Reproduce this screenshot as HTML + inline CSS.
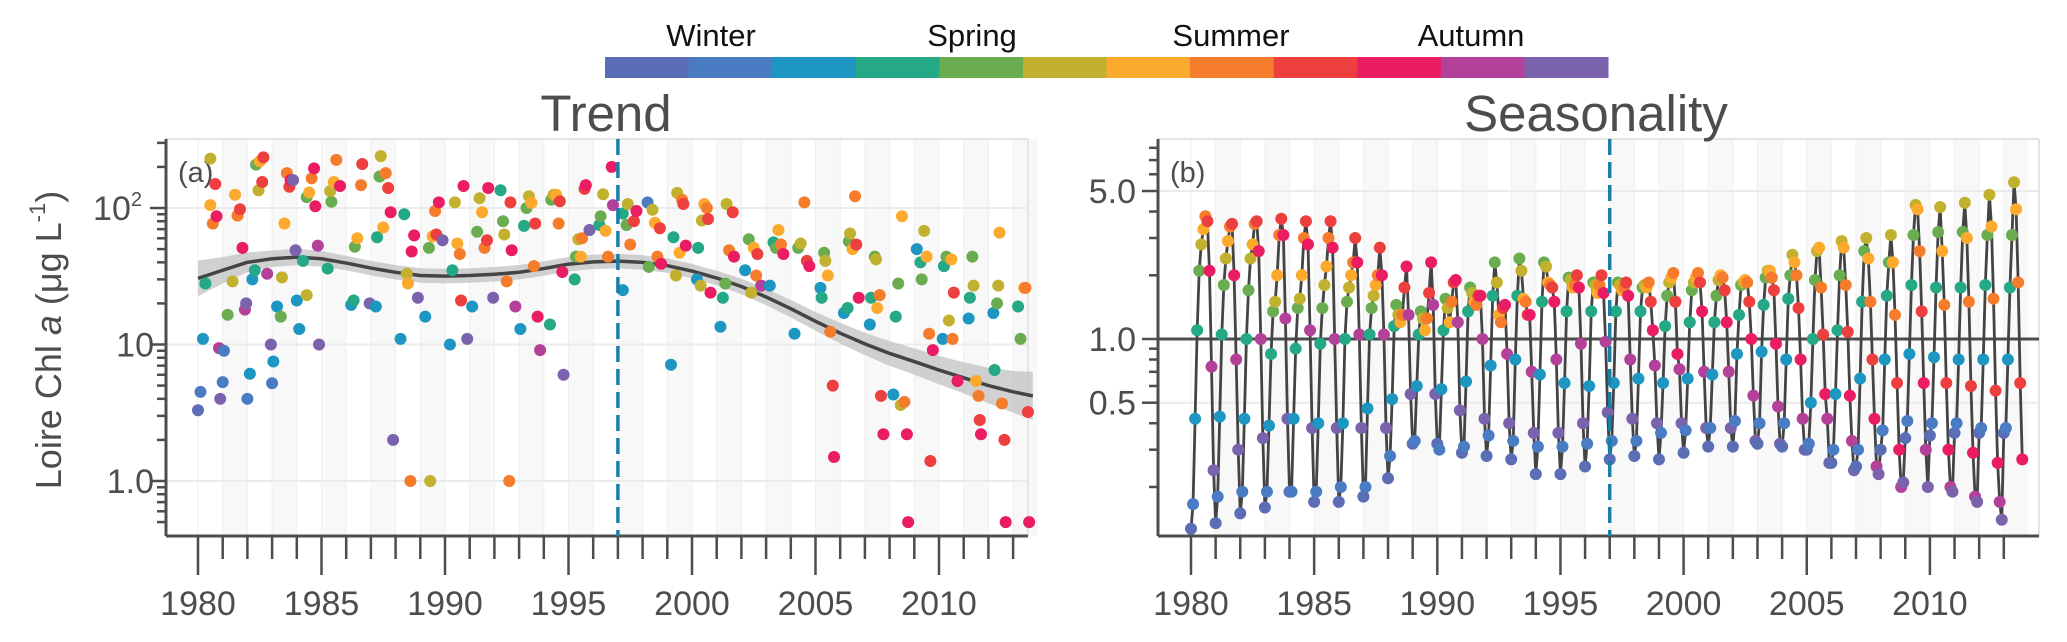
<!DOCTYPE html>
<html><head><meta charset="utf-8"><style>
html,body{margin:0;padding:0;background:#fff;}
svg{display:block;font-family:"Liberation Sans",sans-serif;}
</style></head><body>
<svg id="fig" width="2067" height="642" viewBox="0 0 2067 642" xmlns="http://www.w3.org/2000/svg"></svg>
<script>
// ---------- data ----------
const monthColors = ["#5a6db5","#4a7cc4","#1e96c2","#24a886","#6aad50","#c2b12f","#fbaa2e","#f47c2b","#ee3f3f","#e91c64","#b3419a","#7b62ad"];
const seasonLabels = ["Winter","Spring","Summer","Autumn"];
const xTickYears = [1980,1985,1990,1995,2000,2005,2010];
const breakYear = 1997;

const trendYears = [1980,1981,1982,1983,1984,1985,1986,1987,1988,1989,1990,1991,1992,1993,1994,1995,1996,1997,1998,1999,2000,2001,2002,2003,2004,2005,2006,2007,2008,2009,2010,2011,2012,2013,2013.8];
const trendVals = [30.5,35,40,42.5,43.7,42.5,39.5,36.3,33.8,32,31.7,32,32.7,33.8,36,38.8,40.3,40.8,40,37.8,34.5,30.7,26.6,22.3,18.3,14.8,12.1,10.1,8.6,7.5,6.5,5.7,5.0,4.5,4.2];
const bandFactor = [1.35,1.25,1.18,1.15,1.15,1.14,1.13,1.13,1.13,1.13,1.13,1.13,1.13,1.13,1.13,1.13,1.13,1.13,1.13,1.13,1.13,1.13,1.14,1.15,1.16,1.17,1.19,1.21,1.23,1.25,1.27,1.3,1.35,1.42,1.5];

// [decimal year, value, month index]
const trendPoints = [
[1980.5,230,5],[1980.5,105,6],[1980.6,77,7],[1980.7,150,8],[1980.75,87,9],[1980.3,28,3],[1980.2,11,2],[1980.1,4.5,1],[1980,3.3,0],[1980.85,9.4,10],[1980.9,4,11],
[1981.05,9,1],[1981.2,16.5,4],[1981.0,5.3,1],[1981.4,29,5],[1981.5,125,6],[1981.6,88,7],[1981.7,98,8],[1981.8,51,9],[1981.9,18,10],[1981.95,20,11],
[1982.1,6.1,2],[1982.0,4.0,1],[1982.2,30,2],[1982.3,35,3],[1982.35,208,4],[1982.45,135,5],[1982.5,220,6],[1982.6,155,8],[1982.65,235,8],[1982.8,33,10],[1982.95,10,11],
[1983.05,7.5,2],[1983.0,5.2,1],[1983.2,19,2],[1983.35,16,4],[1983.4,31,5],[1983.5,77,6],[1983.6,180,7],[1983.7,143,8],[1983.75,160,9],[1983.85,160,11],[1983.95,49,11],
[1984.0,21,2],[1984.1,13,2],[1984.25,41,3],[1984.4,120,4],[1984.5,130,6],[1984.6,165,7],[1984.7,195,9],[1984.75,103,9],[1984.85,53,10],[1984.9,10,11],[1984.4,23,5],
[1985.25,36,3],[1985.4,111,4],[1985.35,133,5],[1985.5,155,6],[1985.6,225,7],[1985.75,145,9],
[1986.2,19.5,2],[1986.3,21,3],[1986.35,52,4],[1986.45,60,6],[1986.6,147,7],[1986.65,210,8],[1986.95,20,11],
[1987.2,19,2],[1987.25,61,3],[1987.35,170,4],[1987.4,240,5],[1987.5,72,6],[1987.6,180,7],[1987.7,140,8],[1987.8,93,9],[1987.9,2.0,11],
[1988.2,11,2],[1988.35,90,3],[1988.45,33,5],[1988.5,28,6],[1988.6,1.0,7],[1988.65,48,9],[1988.75,63,9],[1988.9,22,11],
[1989.2,16,2],[1989.35,51,4],[1989.4,1.0,5],[1989.5,62,6],[1989.6,95,7],[1989.65,64,8],[1989.75,110,9],[1989.9,58,11],
[1990.2,10,2],[1990.3,35,3],[1990.4,110,5],[1990.5,55,6],[1990.6,46,7],[1990.65,21,8],[1990.75,145,9],[1990.9,11,11],
[1991.1,19,2],[1991.3,67,4],[1991.4,118,5],[1991.5,93,6],[1991.6,51,7],[1991.7,58,8],[1991.75,140,9],[1991.95,22,11],
[1992.25,135,3],[1992.35,80,4],[1992.4,64,5],[1992.5,29,7],[1992.6,1.0,7],[1992.65,110,8],[1992.7,49,9],[1992.85,19,10],
[1993.05,13,2],[1993.2,74,3],[1993.3,100,4],[1993.4,122,5],[1993.5,109,6],[1993.6,37.5,7],[1993.65,77,8],[1993.75,16,9],[1993.85,9.1,10],
[1994.25,14,3],[1994.3,115,4],[1994.4,125,5],[1994.5,125,6],[1994.6,77,7],[1994.65,112,8],[1994.75,34,9],[1994.8,6.0,11],
[1995.25,30,3],[1995.3,44,4],[1995.4,59,5],[1995.5,44,6],[1995.55,60,7],[1995.65,138,8],[1995.7,147,9],[1995.85,69,11],
[1996.25,75,3],[1996.3,87,4],[1996.4,126,5],[1996.5,68,6],[1996.6,44,7],[1996.75,200,9],[1996.8,105,10],
[1997.2,25,2],[1997.2,91,3],[1997.35,75,4],[1997.4,107,5],[1997.5,54,7],[1997.65,80,8],[1997.75,95,9],
[1998.2,110,1],[1998.25,37,4],[1998.4,97,5],[1998.5,78,6],[1998.6,44,7],[1998.7,71,8],[1998.75,39,9],
[1999.15,7.1,2],[1999.25,61,3],[1999.35,32,5],[1999.4,129,5],[1999.5,47,6],[1999.6,115,7],[1999.65,107,8],[1999.75,53,9],
[2000.2,30,2],[2000.25,51,3],[2000.35,27,5],[2000.4,81,5],[2000.5,107,6],[2000.6,100,7],[2000.65,83,8],[2000.75,24,9],
[2001.15,13.5,2],[2001.25,22,3],[2001.35,28,4],[2001.4,107,5],[2001.5,49,7],[2001.65,93,8],[2001.7,44,9],
[2002.15,35,2],[2002.3,59,4],[2002.4,24,5],[2002.5,51,6],[2002.6,32,7],[2002.65,46,8],[2002.8,27,10],
[2003.15,27,2],[2003.3,56,3],[2003.4,51,4],[2003.5,69,6],[2003.6,54,7],[2003.7,46,9],
[2004.15,12,2],[2004.3,51,4],[2004.4,55,5],[2004.55,110,7],[2004.65,41,8],[2004.75,37.5,9],
[2005.2,26,2],[2005.25,22,3],[2005.35,47,4],[2005.4,41,5],[2005.5,32,6],[2005.6,12.4,7],[2005.7,5.0,8],[2005.75,1.5,9],
[2006.15,17,2],[2006.3,18.5,3],[2006.35,57,4],[2006.4,65,5],[2006.5,50,6],[2006.6,122,7],[2006.65,54,8],[2006.75,22,9],
[2007.2,14,2],[2007.25,22,3],[2007.4,44,4],[2007.45,42,5],[2007.5,18.5,6],[2007.6,23,7],[2007.65,4.2,8],[2007.75,2.2,9],
[2008.15,4.3,2],[2008.25,16,3],[2008.35,28,4],[2008.45,3.6,5],[2008.5,87,6],[2008.6,3.8,7],[2008.7,2.2,9],[2008.75,0.5,9],
[2009.1,50,2],[2009.25,40,3],[2009.3,30,4],[2009.4,68,5],[2009.5,44,6],[2009.6,12,7],[2009.65,1.4,8],[2009.75,9.1,9],
[2010.15,11,2],[2010.2,37.5,3],[2010.3,44,4],[2010.4,15,5],[2010.5,42,6],[2010.55,11,7],[2010.6,24,8],[2010.75,5.4,9],
[2011.2,15.5,2],[2011.25,22,3],[2011.35,44,4],[2011.4,27,5],[2011.5,5.4,6],[2011.6,4.2,7],[2011.65,2.8,8],[2011.7,2.2,9],
[2012.2,17,2],[2012.25,6.5,3],[2012.35,20,4],[2012.4,27,5],[2012.45,66,6],[2012.55,3.7,7],[2012.65,2.0,8],[2012.7,0.5,9],
[2013.2,19,3],[2013.3,11,4],[2013.45,26,6],[2013.5,26,7],[2013.6,3.2,8],[2013.65,0.5,9]
];

// seasonal factor per year, Jan..Dec
const seasonYears = [1980,1981,1982,1983,1984,1985,1986,1987,1988,1989,1990,1991,1992,1993,1994,1995,1996,1997,1998,1999,2000,2001,2002,2003,2004,2005,2006,2007,2008,2009,2010,2011,2012,2013];
const seasonVals = [
[0.127,0.166,0.42,1.1,2.1,2.8,3.3,3.8,3.6,2.1,0.74,0.24],
[0.135,0.18,0.43,1.05,1.8,2.4,2.9,3.4,3.5,2.0,0.8,0.3],
[0.15,0.19,0.42,1.0,1.7,2.4,2.8,3.5,3.6,2.6,1.0,0.34],
[0.16,0.19,0.39,0.85,1.35,1.5,2.0,3.1,3.7,3.1,1.25,0.42],
[0.19,0.19,0.42,0.9,1.4,1.55,2.0,3.0,3.6,2.8,1.1,0.38],
[0.17,0.19,0.4,0.95,1.4,1.8,2.2,3.0,3.6,2.7,1.0,0.38],
[0.17,0.2,0.4,1.0,1.5,1.75,2.0,2.3,3.0,2.3,1.05,0.38],
[0.18,0.2,0.47,1.05,1.4,1.6,1.8,2.0,2.7,2.0,1.05,0.38],
[0.22,0.28,0.52,1.15,1.45,1.3,1.2,1.3,1.75,2.2,1.3,0.55],
[0.32,0.33,0.6,1.05,1.35,1.25,1.1,1.25,1.65,2.3,1.45,0.55],
[0.32,0.3,0.58,1.1,1.55,1.4,1.2,1.5,1.85,1.9,1.2,0.46],
[0.29,0.31,0.63,1.35,1.75,1.65,1.5,1.45,1.6,1.6,1.0,0.42],
[0.28,0.35,0.75,1.6,2.3,1.85,1.3,1.2,1.4,1.45,0.85,0.4],
[0.27,0.33,0.8,1.6,2.4,2.1,1.55,1.5,1.3,1.3,0.7,0.36],
[0.23,0.31,0.68,1.5,2.3,2.2,1.85,1.8,1.75,1.5,0.8,0.36],
[0.23,0.31,0.62,1.35,1.95,1.9,1.75,1.8,2.0,1.75,0.95,0.4],
[0.25,0.32,0.6,1.35,1.85,1.8,1.65,1.8,2.0,1.65,0.97,0.45],
[0.27,0.33,0.62,1.35,1.85,1.8,1.7,1.75,1.85,1.6,0.8,0.42],
[0.28,0.33,0.65,1.35,1.75,1.8,1.75,1.85,1.5,1.1,0.75,0.4],
[0.27,0.36,0.62,1.15,1.6,1.85,1.95,2.05,1.5,0.85,0.72,0.4],
[0.29,0.37,0.65,1.2,1.7,1.85,1.95,2.05,1.85,1.35,0.7,0.38],
[0.31,0.38,0.68,1.2,1.6,1.9,2.0,1.95,1.7,1.2,0.7,0.38],
[0.31,0.41,0.85,1.3,1.8,1.85,1.9,1.85,1.5,1.0,0.54,0.33],
[0.32,0.4,0.87,1.45,1.95,2.1,2.1,1.95,1.7,0.95,0.48,0.32],
[0.31,0.4,0.8,1.55,2.0,2.5,2.3,2.0,1.4,0.8,0.42,0.3],
[0.3,0.32,0.5,1.0,1.9,2.6,2.7,1.75,1.05,0.55,0.42,0.26],
[0.26,0.3,0.55,1.1,2.0,2.9,2.7,1.8,1.08,0.54,0.33,0.24],
[0.25,0.3,0.65,1.5,2.6,3.0,2.4,1.5,0.8,0.42,0.25,0.23],
[0.3,0.37,0.8,1.6,2.3,3.1,2.3,1.3,0.62,0.3,0.2,0.21],
[0.34,0.41,0.85,1.8,3.1,4.3,4.1,2.6,1.35,0.62,0.3,0.2],
[0.35,0.4,0.82,1.75,3.2,4.2,2.6,1.45,0.62,0.3,0.2,0.19],
[0.36,0.4,0.8,1.75,3.2,4.4,3.0,1.5,0.6,0.29,0.18,0.17],
[0.36,0.38,0.8,1.8,3.1,4.8,3.4,1.55,0.57,0.26,0.17,0.14],
[0.36,0.38,0.8,1.75,3.1,5.5,4.1,1.85,0.62,0.27]
];

// ---------- scales ----------
const L = {x0:166,x1:1028,y0:139,y1:536};
const R = {x0:1158,x1:2039,y0:139,y1:536};
const xL = y => 198 + (y-1980)*24.7;
const yL = v => 481 - Math.log10(v)*136.5;
const xR = y => 1191 + (y-1980)*24.63;
const yR = v => 339 - Math.log10(v)*211.7;

const NS="http://www.w3.org/2000/svg";
const svg=document.getElementById('fig');
function mk(tag,attrs,parent){const e=document.createElementNS(NS,tag);for(const k in attrs)e.setAttribute(k,attrs[k]);(parent||svg).appendChild(e);return e;}
const AX="#4d4d4d";

// ---------- colorbar ----------
const cb=mk('g',{});


const cbX0=605, cbW=(1608-605)/12;
monthColors.forEach((c,i)=>{
  const r=mk('rect',{x:cbX0+i*cbW,y:57,width:cbW+0.5,height:21,fill:c},cb);
  
  
});
const seasonLabelX=[711,972,1231,1471];
seasonLabels.forEach((s,i)=>{
  const t=mk('text',{x:seasonLabelX[i],y:46,'text-anchor':'middle','font-size':31,fill:'#111'},cb);
  t.textContent=s;
  
  
});

function panel(P,xs,ys,name,title,tag,yTicks,yMinor,xTitleX){
  const g=mk('g',{});
  
  
  for(let y=1980;y<2014;y++){
    if(y%2===1){mk('rect',{x:xs(y),y:P.y0,width:xs(y+1)-xs(y),height:P.y1-P.y0,fill:'#f8f8f8'},g);}
    mk('line',{x1:xs(y),x2:xs(y),y1:P.y0,y2:P.y1,stroke:'#efefef','stroke-width':1},g);
  }
  mk('line',{x1:P.x0,x2:P.x1,y1:P.y0,y2:P.y0,stroke:'#e4e4e4','stroke-width':2},g);
  mk('line',{x1:P.x1,x2:P.x1,y1:P.y0,y2:P.y1,stroke:'#e4e4e4','stroke-width':2},g);
  yTicks.forEach(t=>mk('line',{x1:P.x0,x2:P.x1,y1:ys(t.v),y2:ys(t.v),stroke:'#ebebeb','stroke-width':2},g));
  const tt=mk('text',{x:xTitleX,y:131,'text-anchor':'middle','font-size':51,fill:AX},g);
  tt.textContent=title;
  
  
  const tg=mk('text',{x:P.x0+12,y:182,'font-size':29,fill:AX},g);
  tg.textContent=tag;
  
  
  const ax=mk('g',{},g);
  
  
  mk('line',{x1:P.x0,x2:P.x1,y1:P.y1,y2:P.y1,stroke:AX,'stroke-width':3},ax);
  for(let y=1980;y<=2013;y++){
    const maj=y%5===0;
    mk('line',{x1:xs(y),x2:xs(y),y1:P.y1,y2:maj?575:559,stroke:AX,'stroke-width':2.5},ax);
  }
  xTickYears.forEach(y=>{
    const t=mk('text',{x:xs(y),y:615,'text-anchor':'middle','font-size':34,fill:AX},ax);
    t.textContent=y;
    
    
  });
  const ay=mk('g',{},g);
  
  
  mk('line',{x1:P.x0,x2:P.x0,y1:P.y0,y2:P.y1,stroke:AX,'stroke-width':3},ay);
  yMinor.forEach(v=>mk('line',{x1:P.x0-9,x2:P.x0,y1:ys(v),y2:ys(v),stroke:AX,'stroke-width':2.5},ay));
  yTicks.forEach(t=>{
    mk('line',{x1:P.x0-16,x2:P.x0,y1:ys(t.v),y2:ys(t.v),stroke:AX,'stroke-width':2.5},ay);
    const tx=mk('text',{x:t.rx,y:ys(t.v)+12,'text-anchor':'end','font-size':34,fill:AX},ay);
    tx.innerHTML=t.label;
    
    
  });
  return g;
}

// ---------- Trend panel ----------
const minorL=[0.5,0.6,0.7,0.8,0.9,2,3,4,5,6,7,8,9,20,30,40,50,60,70,80,90,200,300];
const gL=panel(L,xL,yL,'trend','Trend','(a)',
  [{v:1,label:'1.0',rx:154},{v:10,label:'10',rx:154},{v:100,label:'10<tspan font-size="20" dy="-14">2</tspan>',rx:142}],
  minorL,606);
let up='',dn='';
trendYears.forEach((y,i)=>{up+=(i?'L':'M')+xL(y)+','+yL(trendVals[i]*bandFactor[i]);});
for(let i=trendYears.length-1;i>=0;i--){dn+='L'+xL(trendYears[i])+','+yL(trendVals[i]/bandFactor[i]);}
const band=mk('path',{d:up+dn+'Z',fill:'#bdbdbd','fill-opacity':0.7},gL);


const tl=mk('polyline',{points:trendYears.map((y,i)=>xL(y)+','+yL(trendVals[i])).join(' '),fill:'none',stroke:'#444','stroke-width':3.5,'stroke-linejoin':'round'},gL);


const ptsL=mk('g',{},gL);


trendPoints.forEach(p=>{
  const c=mk('circle',{cx:xL(p[0]),cy:yL(p[1]),r:6,fill:monthColors[p[2]]},ptsL);
  
  
});
const dl=mk('line',{x1:xL(breakYear),x2:xL(breakYear),y1:L.y0,y2:L.y1,stroke:'#1a7fa8','stroke-width':3.5,'stroke-dasharray':'16 7'},gL);


const yt=mk('text',{x:0,y:0,'text-anchor':'middle','font-size':36,fill:AX,transform:'translate(61,340) rotate(-90)'},gL);
yt.innerHTML='Loire Chl <tspan font-style="italic">a</tspan> (μg L<tspan font-size="22" dy="-16">-1</tspan><tspan dy="16">)</tspan>';



// ---------- Seasonality panel ----------
const minorR=[0.2,0.3,0.4,0.6,0.7,0.8,0.9,2,3,4,6,7,8];
const gR=panel(R,xR,yR,'seasonality','Seasonality','(b)',
  [{v:0.5,label:'0.5',rx:1136},{v:1,label:'1.0',rx:1136},{v:5,label:'5.0',rx:1136}],
  minorR,1596);
const ul=mk('line',{x1:R.x0,x2:R.x1,y1:yR(1),y2:yR(1),stroke:AX,'stroke-width':3},gR);


const sPts=[];
seasonYears.forEach((y,i)=>seasonVals[i].forEach((v,m)=>sPts.push([y+m/12,v,m])));
const sl=mk('polyline',{points:sPts.map(p=>xR(p[0])+','+yR(p[1])).join(' '),fill:'none',stroke:'#444','stroke-width':2.8,'stroke-linejoin':'round'},gR);


const ptsR=mk('g',{},gR);


sPts.forEach(p=>{
  const c=mk('circle',{cx:xR(p[0]),cy:yR(p[1]),r:6,fill:monthColors[p[2]]},ptsR);
  
  
});
const dr=mk('line',{x1:xR(breakYear),x2:xR(breakYear),y1:R.y0,y2:R.y1,stroke:'#1a7fa8','stroke-width':3.5,'stroke-dasharray':'16 7'},gR);


</script>
</body></html>
